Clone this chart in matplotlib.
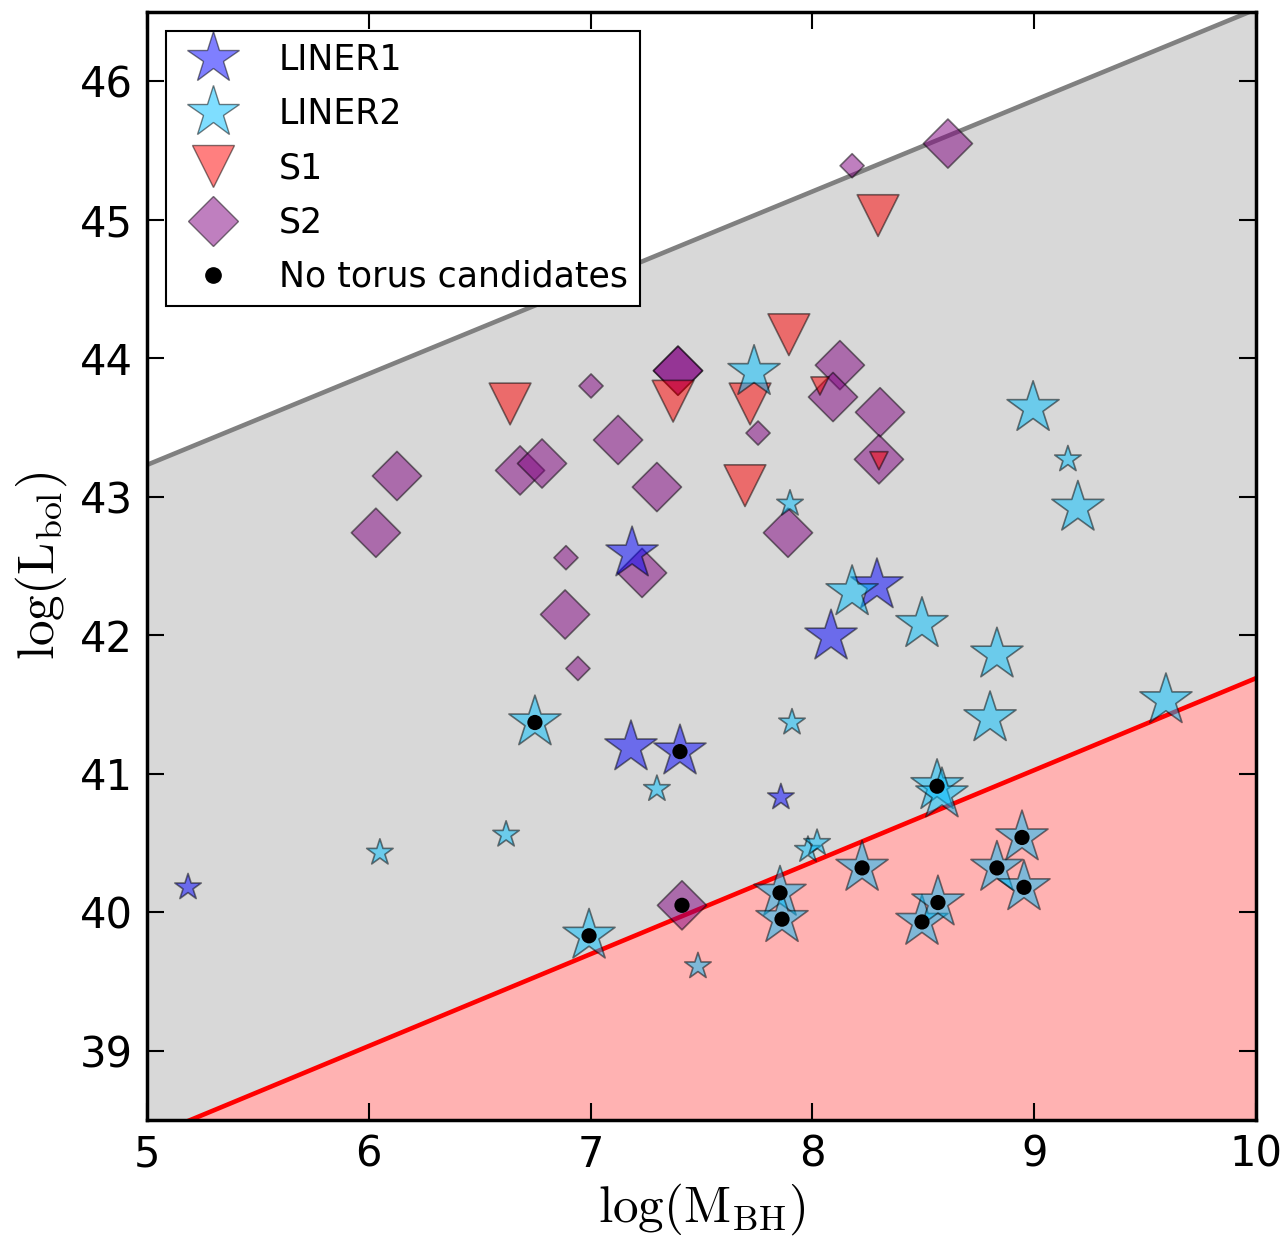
import matplotlib
matplotlib.use("Agg")
import matplotlib.pyplot as plt
from matplotlib.lines import Line2D
import numpy as np

plt.rcParams['mathtext.fontset'] = 'cm'
plt.rcParams['font.family'] = ['DejaVu Sans']

# ---------------- data ----------------
# LINER1 (blue stars)
l1_x = [5.185, 7.187, 7.182, 7.403, 7.858, 8.084, 8.291]
l1_y = [40.18, 42.59, 41.19, 41.16, 40.83, 41.99, 42.36]
l1_big = [0, 1, 1, 1, 0, 1, 1]

# LINER2 (cyan stars)
l2_x = [6.050, 6.619, 6.749, 6.993, 7.299, 7.484, 7.737, 7.899, 7.908, 7.980,
        8.021, 7.854, 7.863, 8.179, 8.224, 8.494, 8.494, 8.562, 8.584, 8.566,
        8.832, 8.945, 8.954, 8.801, 8.832, 8.995, 9.152, 9.197, 9.594]
l2_y = [40.43, 40.56, 41.37, 39.83, 40.89, 39.61, 43.90, 42.95, 41.37, 40.45,
        40.50, 40.14, 39.95, 42.31, 40.32, 42.08, 39.93, 40.91, 40.85, 40.07,
        40.32, 40.54, 40.18, 41.40, 41.86, 43.64, 43.27, 42.92, 41.53]
l2_big = [0, 0, 1, 1, 0, 0, 1, 0, 0, 0,
          0, 1, 1, 1, 1, 1, 1, 1, 1, 1,
          1, 1, 1, 1, 1, 1, 0, 1, 1]

# S1 (red down triangles)
s1_x = [6.637, 7.372, 7.719, 7.894, 7.696, 8.296, 8.034, 8.300]
s1_y = [43.67, 43.69, 43.67, 44.17, 43.08, 45.03, 43.80, 43.26]
s1_big = [1, 1, 1, 1, 1, 1, 0, 0]

# S2 (purple diamonds)
s2_x = [8.611, 8.179, 6.032, 6.127, 6.682, 6.781, 6.889, 6.885, 6.943, 7.002,
        7.124, 7.299, 7.394, 7.394, 7.755, 7.890, 8.124, 8.093, 8.305, 8.300,
        7.232, 7.412]
s2_y = [45.55, 45.39, 42.74, 43.15, 43.19, 43.24, 42.56, 42.15, 41.76, 43.80,
        43.41, 43.07, 43.91, 43.91, 43.46, 42.74, 43.95, 43.72, 43.61, 43.27,
        42.45, 40.05]
s2_big = [1, 0, 1, 1, 1, 1, 0, 1, 0, 0,
          1, 1, 1, 1, 0, 1, 1, 1, 1, 1,
          1, 1]

# No torus candidates (black dots)
nt_x = [6.749, 6.993, 7.403, 7.412, 7.854, 7.863, 8.224, 8.494, 8.562, 8.566,
        8.832, 8.945, 8.954]
nt_y = [41.37, 39.83, 41.16, 40.05, 40.14, 39.95, 40.32, 39.93, 40.91, 40.07,
        40.32, 40.54, 40.18]

# boundary lines
line_x = [5.0, 10.0]
upper_y = [43.23, 46.52]
lower_y = [38.37, 41.69]

x_ticks = [5, 6, 7, 8, 9, 10]
y_ticks = [39, 40, 41, 42, 43, 44, 45, 46]

# ---------------- figure ----------------
fig = plt.figure(figsize=(12.86, 12.39), dpi=100)
ax = fig.add_axes([147/1286, 1 - 1120/1239, (1256-147)/1286, (1120-12)/1239])

ax.fill_between(line_x, lower_y, upper_y, color='gray', alpha=0.3, lw=0, zorder=0)
ax.fill_between(line_x, [38.0, 38.0], lower_y, color='red', alpha=0.3, lw=0, zorder=0)
ax.plot(line_x, upper_y, color='gray', lw=3.3, zorder=1)
ax.plot(line_x, lower_y, color='red', lw=3.3, zorder=1)

def sizes(flags, big, small):
    return [big if f else small for f in flags]

ax.scatter(s2_x, s2_y, s=sizes(s2_big, 625, 150), marker='D', c='purple',
           alpha=0.5, edgecolors='k', linewidths=1.2, zorder=2)
ax.scatter(s1_x, s1_y, s=sizes(s1_big, 900, 170), marker='v', c='red',
           alpha=0.5, edgecolors='k', linewidths=1.2, zorder=2)
ax.scatter(l1_x, l1_y, s=sizes(l1_big, 1550, 400), marker='*', c='blue',
           alpha=0.5, edgecolors='k', linewidths=1.2, zorder=2)
ax.scatter(l2_x, l2_y, s=sizes(l2_big, 1550, 400), marker='*', c='deepskyblue',
           alpha=0.5, edgecolors='k', linewidths=1.2, zorder=2)
ax.scatter(nt_x, nt_y, s=120, marker='o', c='k', edgecolors='none', zorder=3)

ax.set_xlim(5, 10)
ax.set_ylim(38.5, 46.5)
ax.set_xticks(x_ticks)
ax.set_yticks(y_ticks)
ax.tick_params(direction='in', length=12, width=1.5, top=True, right=True,
               labelsize=30, pad=10)
for sp in ax.spines.values():
    sp.set_linewidth(2.5)

ax.set_xlabel(r'$\mathrm{log(M_{BH})}$', fontsize=37, labelpad=4)
ax.set_ylabel(r'$\mathrm{log(L_{bol})}$', fontsize=37, labelpad=8)

handles = [
    Line2D([], [], ls='none', marker='*', markersize=39, markerfacecolor='blue',
           markeredgecolor='k', alpha=0.5),
    Line2D([], [], ls='none', marker='*', markersize=39, markerfacecolor='deepskyblue',
           markeredgecolor='k', alpha=0.5),
    Line2D([], [], ls='none', marker='v', markersize=30, markerfacecolor='red',
           markeredgecolor='k', alpha=0.5),
    Line2D([], [], ls='none', marker='D', markersize=25, markerfacecolor='purple',
           markeredgecolor='k', alpha=0.5),
    Line2D([], [], ls='none', marker='o', markersize=11, markerfacecolor='k',
           markeredgecolor='k'),
]
labels = ['LINER1', 'LINER2', 'S1', 'S2', 'No torus candidates']
leg = ax.legend(handles, labels, loc='upper left', fontsize=25, fancybox=False,
                framealpha=1, edgecolor='k', labelspacing=0.58, handletextpad=0.9,
                borderaxespad=0.55, borderpad=0.35)
leg.get_frame().set_linewidth(1.5)

fig.savefig('out.png', dpi=100)
